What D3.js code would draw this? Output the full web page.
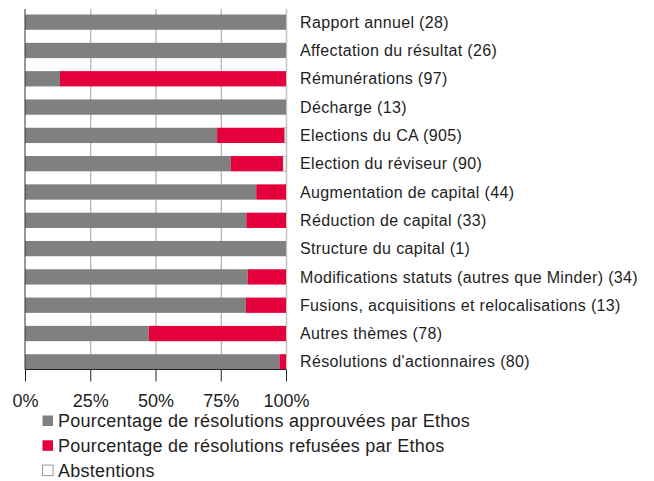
<!DOCTYPE html>
<html>
<head>
  <meta charset="UTF-8">
  <style>
    body { margin: 0; background: #fff; }
    text { font-family: "Liberation Sans", Arial, sans-serif; fill: #1e1e1e; }
  </style>
</head>
<body>
<svg id="chart"></svg>
<script src="https://d3js.org/d3.v7.min.js"></script>
<script>

let width = 654, height = 481;

// data
var categories = ["Rapport annuel (28)", "Affectation du résultat (26)", "Rémunérations (97)",
  "Décharge (13)", "Elections du CA (905)", "Election du réviseur (90)",
  "Augmentation de capital (44)", "Réduction de capital (33)", "Structure du capital (1)",
  "Modifications statuts (autres que Minder) (34)", "Fusions, acquisitions et relocalisations (13)",
  "Autres thèmes (78)", "Résolutions d'actionnaires (80)"]
var approved = [100, 100, 13.4, 100, 73.6, 78.9, 88.6, 84.8, 100, 85.3, 84.6, 47.4, 97.5]
var refused  = [0, 0, 86.6, 0, 25.9, 20.0, 11.4, 15.2, 0, 14.7, 15.4, 52.6, 2.5]
var abstain  = [0, 0, 0, 0, 0.5, 1.1, 0, 0, 0, 0, 0, 0, 0]
var ticks = [0, 25, 50, 75, 100]
var legendLabels = ["Pourcentage de résolutions approuvées par Ethos",
  "Pourcentage de résolutions refusées par Ethos", "Abstentions"]
var colors = ["#808080", "#e4003a", "#ffffff"]

let svg = d3.select("#chart").attr("width", width).attr("height", height)

let x = d3.scaleLinear().domain([0, 100]).range([25, 286])
let y = d3.scaleBand().domain(categories).range([8, 376]).paddingInner(0.46).paddingOuter(0.23)
let axisY = 369.5

// grid lines
svg.append("g").selectAll("line")
  .data(ticks.slice(1, 4))
  .enter().append("line")
    .attr("x1", d => x(d) + 0.5).attr("x2", d => x(d) + 0.5)
    .attr("y1", 9).attr("y2", axisY)
    .style("stroke", "#a0a0a0").style("stroke-width", 1)

// right border line at 100%
svg.append("line")
  .attr("x1", x(100) + 0.5).attr("x2", x(100) + 0.5)
  .attr("y1", 9).attr("y2", axisY)
  .style("stroke", "#c4c4c4").style("stroke-width", 1.5)

// stacked bars
var rows = categories.map(function(c, i) {
  return [
    { cat: c, x0: 0, x1: approved[i], color: colors[0] },
    { cat: c, x0: approved[i], x1: approved[i] + refused[i], color: colors[1] },
    { cat: c, x0: approved[i] + refused[i], x1: approved[i] + refused[i] + abstain[i], color: colors[2] }
  ]
})

svg.append("g").selectAll("g")
  .data(rows)
  .enter().append("g")
  .selectAll("rect")
  .data(d => d.filter(s => s.x1 > s.x0))
  .enter().append("rect")
    .attr("x", d => x(d.x0))
    .attr("y", d => y(d.cat))
    .attr("width", d => x(d.x1) - x(d.x0))
    .attr("height", y.bandwidth())
    .style("fill", d => d.color)
    .style("stroke", d => d.color === "#ffffff" ? "#999" : "none")
    .style("stroke-width", 0.6)

// left axis line
svg.append("line")
  .attr("x1", x(0)).attr("x2", x(0))
  .attr("y1", 9).attr("y2", axisY)
  .style("stroke", "#333").style("stroke-width", 1)

// category labels
svg.append("g").selectAll("text")
  .data(categories)
  .enter().append("text")
    .attr("x", 300)
    .attr("y", d => y(d) + y.bandwidth() / 2)
    .attr("dy", "0.35em")
    .style("font-size", "16px")
    .style("letter-spacing", "0.35px")
    .text(d => d)

// x axis
let xAxis = d3.axisBottom(x)
  .tickValues(ticks)
  .tickSize(12)
  .tickPadding(13)
  .tickFormat(d => d + "%")

let gx = svg.append("g")
  .attr("transform", "translate(0," + axisY + ")")
  .call(xAxis)
gx.select(".domain").attr("d", "M" + x(0) + ",0H" + x(100)).style("stroke", "#222")
gx.selectAll(".tick line").style("stroke", "#222")
gx.selectAll("text").style("font-size", "18px").style("font-family", "Liberation Sans, Arial, sans-serif").style("fill", "#1e1e1e")

// legend
let legend = svg.append("g").selectAll("g")
  .data(legendLabels)
  .enter().append("g")
    .attr("transform", (d, i) => "translate(42," + (415 + i * 24.8) + ")")

legend.append("rect")
  .attr("x", 0.5).attr("y", 0.5)
  .attr("width", 10.5).attr("height", 10.5)
  .style("fill", (d, i) => colors[i])
  .style("stroke", (d, i) => i === 2 ? "#999" : "none")

legend.append("text")
  .attr("x", 16)
  .attr("y", 6)
  .attr("dy", "0.35em")
  .style("font-size", "18px")
  .style("letter-spacing", "0.25px")
  .text(d => d)

</script>
</body>
</html>
